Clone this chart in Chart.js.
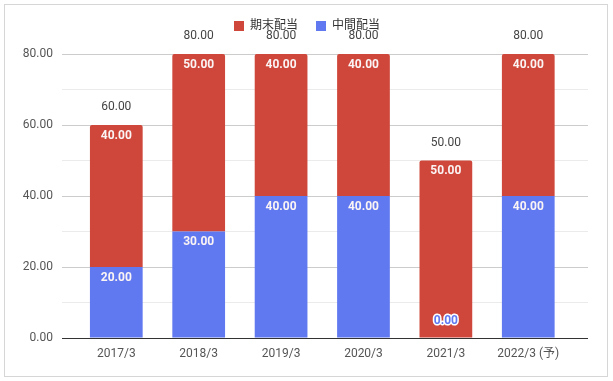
<!DOCTYPE html>
<html>
<head>
<meta charset="utf-8">
<script src="https://cdn.jsdelivr.net/npm/chart.js@4"></script>
<style>
  html, body { margin: 0; padding: 0; background: #fff; }
  #wrap { position: relative; width: 613px; height: 381px; }
  #frame { position: absolute; left: 4px; top: 4px; width: 602px; height: 371px; border: 1px solid #d6d6d6; pointer-events: none; }
  canvas { position: absolute; left: 0; top: 0; }
</style>
</head>
<body>
<div id="wrap">
  <canvas id="c" width="613" height="381"></canvas>
  <div id="frame"></div>
</div>
<script>
const categories = ['2017/3', '2018/3', '2019/3', '2020/3', '2021/3', '2022/3 (予)'];
const interimValues = [20, 30, 40, 40, 0, 40];   // 中間配当
const yearEndValues = [40, 50, 40, 40, 50, 40];  // 期末配当
const interimName = '中間配当';
const yearEndName = '期末配当';
const yTickValues = [0, 20, 40, 60, 80];

const RED = '#cf463a';
const BLUE = '#6179f0';
const FONT = "Roboto, 'Noto Sans CJK JP', sans-serif";

const labelPlugin = {
  id: 'barLabels',
  afterDatasetsDraw(chart) {
    const ctx = chart.ctx;
    ctx.save();
    ctx.textAlign = 'center';
    ctx.textBaseline = 'middle';
    chart.data.datasets.forEach((ds, di) => {
      const meta = chart.getDatasetMeta(di);
      meta.data.forEach((bar, i) => {
        const v = ds.data[i].y;
        ctx.font = 'bold 12px ' + FONT;
        if (v === 0) {
          const y = bar.base - 17;
          ctx.lineWidth = 3;
          ctx.strokeStyle = '#ffffff';
          ctx.lineJoin = 'round';
          ctx.strokeText(v.toFixed(2), bar.x, y);
          ctx.fillStyle = ds.backgroundColor;
          ctx.fillText(v.toFixed(2), bar.x, y);
        } else {
          ctx.fillStyle = '#fbf4f4';
          ctx.fillText(v.toFixed(2), bar.x, bar.y + 10.5);
        }
      });
    });
    const top = chart.getDatasetMeta(chart.data.datasets.length - 1);
    ctx.font = '12px ' + FONT;
    ctx.fillStyle = '#444444';
    top.data.forEach((bar, i) => {
      const total = interimValues[i] + yearEndValues[i];
      const y = chart.scales.y.getPixelForValue(total) - 18;
      ctx.fillText(total.toFixed(2), bar.x, y);
    });
    ctx.restore();
  }
};

const legendFitPlugin = {
  id: 'legendFit',
  beforeLayout(chart) {
    const lg = chart.legend;
    if (lg && !lg._patched) {
      const orig = lg.fit;
      lg.fit = function () { orig.call(this); this.height = 52; };
      lg._patched = true;
    }
  },
  afterLayout(chart) {
    const lg = chart.legend;
    if (lg) { lg.left += 13; lg.right += 13; }
  }
};

new Chart(document.getElementById('c'), {
  type: 'bar',
  data: {
    datasets: [
      {
        label: interimName,
        data: interimValues.map((v, i) => ({ x: i, y: v })),
        backgroundColor: BLUE,
        borderWidth: 0
      },
      {
        label: yearEndName,
        data: yearEndValues.map((v, i) => ({ x: i, y: v })),
        backgroundColor: RED,
        borderWidth: 0,
        borderRadius: { topLeft: 2, topRight: 2, bottomLeft: 0, bottomRight: 0 },
        borderSkipped: 'start'
      }
    ]
  },
  options: {
    responsive: false,
    animation: false,
    devicePixelRatio: 1,
    categoryPercentage: 0.8,
    barPercentage: 0.8,
    layout: { padding: { left: 0, right: 25, top: 2, bottom: 0 } },
    plugins: {
      legend: {
        position: 'top',
        reverse: true,
        labels: {
          boxWidth: 10,
          boxHeight: 10,
          padding: 18,
          color: '#333333',
          font: { family: FONT, size: 12 }
        }
      },
      tooltip: { enabled: false }
    },
    scales: {
      x: {
        type: 'linear',
        stacked: true,
        offset: false,
        min: -0.659,
        max: 5.725,
        afterBuildTicks: s => { s.ticks = categories.map((_, i) => ({ value: i })); },
        afterFit: s => { s.height = 43; },
        grid: { display: false },
        border: { display: false },
        ticks: {
          callback: v => categories[v],
          color: '#555555',
          padding: 1,
          maxRotation: 0,
          autoSkip: false,
          font: { family: FONT, size: 12 }
        }
      },
      y: {
        stacked: true,
        min: 0,
        max: 80,
        afterFit: s => { s.width = 62; },
        ticks: {
          stepSize: 10,
          callback: v => (yTickValues.includes(v) ? v.toFixed(2) : ''),
          color: '#555555',
          padding: 9,
          font: { family: FONT, size: 12 }
        },
        border: { display: false },
        grid: {
          drawTicks: false,
          lineWidth: 1,
          color: c => c.tick.value === 0 ? '#333333' : (yTickValues.includes(c.tick.value) ? '#cccccc' : '#ebebeb')
        }
      }
    }
  },
  plugins: [legendFitPlugin, labelPlugin]
});
</script>
</body>
</html>
